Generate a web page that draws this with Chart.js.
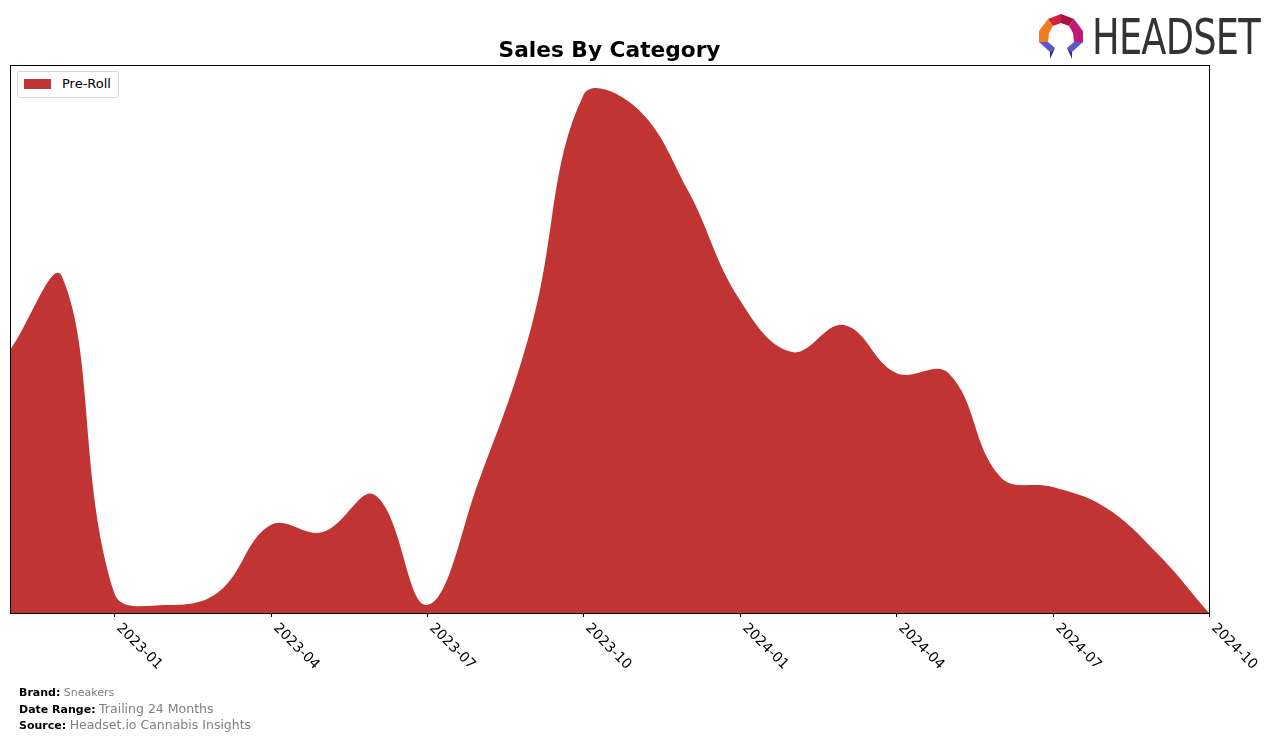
<!DOCTYPE html>
<html>
<head>
<meta charset="utf-8">
<script src="https://cdn.jsdelivr.net/npm/chart.js@4/dist/chart.umd.min.js"></script>
<style>
  body { margin: 0; background: #fff; font-family: "DejaVu Sans", sans-serif; }
  #wrap { position: relative; width: 1276px; height: 739px; overflow: hidden; }
  #title { position: absolute; left: 10px; width: 1199px; top: 37px; text-align: center;
           font-weight: bold; font-size: 21.7px; color: #000; }
  #legend { position: absolute; left: 17px; top: 71px; width: 100px; height: 25px;
            border: 1px solid #d6d6d6; border-radius: 3px; background: #fff; }
  #legend .sw { position: absolute; left: 6px; top: 7px; width: 27px; height: 10px; background: #c03434; }
  #legend .lb { position: absolute; left: 44px; top: 4px; font-size: 13px; color: #000; }
  #footer { position: absolute; left: 19px; top: 685px; font-size: 11px; line-height: 15.5px; }
  #footer b { color: #000; }
  #footer span { color: #808080; }
  #footer .big { font-size: 12.5px; }
  #logo { position: absolute; left: 1036px; top: 12px; width: 230px; height: 50px; }
  #logo .txt { position: absolute; left: 56px; top: -3px; font-family: "DejaVu Sans", sans-serif;
               font-size: 49px; color: #333; transform: scaleX(0.75); transform-origin: left top;
               letter-spacing: -1px; }
</style>
</head>
<body>
<div id="wrap">
  <canvas id="chart" width="1276" height="739"></canvas>
  <div id="title">Sales By Category</div>
  <div id="legend"><div class="sw"></div><div class="lb">Pre-Roll</div></div>
  <div id="logo">
    <svg width="50" height="50" viewBox="0 0 50 50">
      <polygon points="12,7 25,2 25,11 17,14" fill="#d6203c"/>
      <polygon points="25,2 38,7 33,14 25,11" fill="#a8143f"/>
      <polygon points="38,7 47,19 47,30 38,30 37,21 33,14" fill="#c2187c"/>
      <polygon points="12,7 17,14 13,21 12,30 3,30 3,19" fill="#f27a22"/>
      <polygon points="3,30 12,30 19,36 14,40" fill="#5b55cf"/>
      <polygon points="14,40 19,36 14,47" fill="#2d2f8a"/>
      <polygon points="38,30 47,30 36,40 31,36" fill="#5b55cf"/>
      <polygon points="31,36 36,40 36,47" fill="#2d2f8a"/>
    </svg>
    <div class="txt">HEADSET</div>
  </div>
  <div id="footer">
    <div><b>Brand:</b> <span>Sneakers</span></div>
    <div><b>Date Range:</b> <span class="big">Trailing 24 Months</span></div>
    <div><b>Source:</b> <span class="big">Headset.io Cannabis Insights</span></div>
  </div>
</div>
<script>
// months shown on the x axis (one point per month)
const months = [
  "2022-11", "2022-12", "2023-01", "2023-02", "2023-03", "2023-04",
  "2023-05", "2023-06", "2023-07", "2023-08", "2023-09", "2023-10",
  "2023-11", "2023-12", "2024-01", "2024-02", "2024-03", "2024-04",
  "2024-05", "2024-06", "2024-07", "2024-08", "2024-09", "2024-10"
];

// Pre-Roll sales (no y labels, relative units)
const preRoll = [
  263, 336, 20, 8, 21, 88,
  81, 118, 8, 133, 286, 518,
  506, 423, 313, 261, 288, 240,
  240, 136, 126, 106, 60, 0
];

// tick labels drawn under the axis
const tickLabels = ["2023-01", "2023-04", "2023-07", "2023-10", "2024-01", "2024-04", "2024-07", "2024-10"];

const yMax = 548;

// frame, tick marks and rotated date labels (matplotlib style)
const axesPlugin = {
  id: "axesFrame",
  afterDraw(chart) {
    const { ctx, chartArea: a, scales } = chart;
    ctx.save();
    ctx.strokeStyle = "#000";
    ctx.lineWidth = 1;
    ctx.strokeRect(a.left + 0.5, a.top + 0.5, a.right - a.left, a.bottom - a.top);
    ctx.fillStyle = "#000";
    ctx.font = "14px 'DejaVu Sans'";
    tickLabels.forEach((lab) => {
      const x = Math.round(scales.x.getPixelForValue(months.indexOf(lab))) + 0.5;
      ctx.beginPath();
      ctx.moveTo(x, a.bottom);
      ctx.lineTo(x, a.bottom + 4);
      ctx.stroke();
      ctx.save();
      ctx.translate(x + 9, a.bottom + 8);
      ctx.rotate(Math.PI / 4);
      ctx.textAlign = "left";
      ctx.textBaseline = "top";
      ctx.fillText(lab, 0, 0);
      ctx.restore();
    });
    ctx.restore();
  }
};

new Chart(document.getElementById("chart"), {
  type: "line",
  data: {
    labels: months,
    datasets: [{
      label: "Pre-Roll",
      data: preRoll,
      backgroundColor: "#c03434",
      borderWidth: 0,
      pointRadius: 0,
      fill: "origin",
      tension: 0.4
    }]
  },
  options: {
    responsive: false,
    animation: false,
    layout: { padding: { left: 10, right: 67, top: 65, bottom: 126 } },
    plugins: { legend: { display: false }, tooltip: { enabled: false }, title: { display: false } },
    scales: {
      x: { display: false, offset: false },
      y: { display: false, min: 0, max: yMax }
    }
  },
  plugins: [axesPlugin]
});
</script>
</body>
</html>
